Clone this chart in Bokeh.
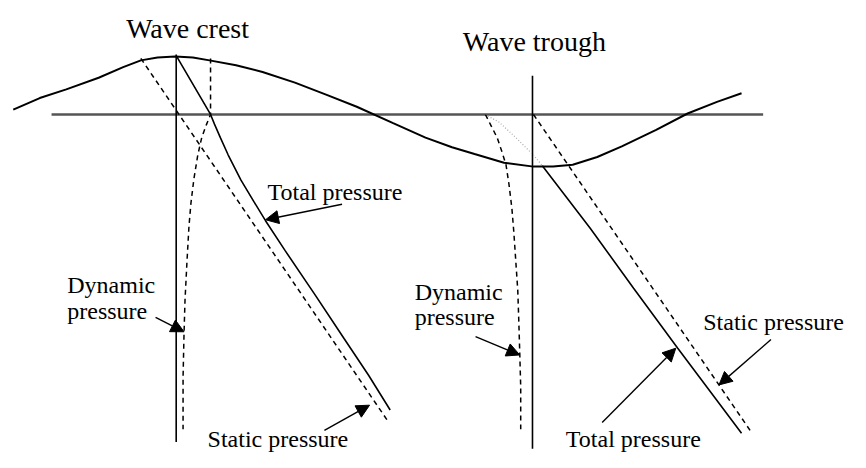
from bokeh.plotting import figure
from bokeh.models import Range1d, Arrow, NormalHead
from bokeh.core.properties import value
from bokeh.embed import file_html
from bokeh.resources import INLINE

# ---- data (diagram coordinates, y grows downward) ----
wave_x = [13, 40, 67, 100, 125, 143, 160, 178, 196, 213, 240, 267, 300, 333, 363, 400, 433, 460, 483, 513, 543, 563, 583, 608, 633, 668, 700, 730, 755]
wave_y = [113, 101, 92, 80, 69, 62, 59, 58, 59, 62, 67, 74, 85, 98, 110, 127, 142, 152, 159, 168, 172, 172, 170, 162, 151, 134, 117, 105, 96]

surface_x = [52, 777]
surface_y = [118, 118]

crest_axis_x = [179, 179]
crest_axis_y = [56, 457]
trough_axis_x = [542, 542]
trough_axis_y = [78, 464]

crest_total_x = [179, 214, 218, 224, 232, 245, 258, 270, 290, 320, 350, 375, 397]
crest_total_y = [57, 118, 128, 142, 160, 186, 208, 228, 259, 304, 350, 388, 424]
crest_static_x = [143, 395]
crest_static_y = [60, 436]
crest_dyn_x = [214, 214, 210, 205, 201, 197, 194, 192, 190, 188, 187, 186, 186]
crest_dyn_y = [60, 118, 128, 142, 160, 185, 210, 234, 270, 310, 344, 390, 444]

trough_total_x = [552, 601, 645, 690, 755]
trough_total_y = [171, 236, 298, 360, 448]
trough_static_x = [543, 765]
trough_static_y = [118, 447]
trough_dyn_x = [494, 500, 506, 511, 515, 518, 521, 523, 525, 527, 528, 529, 530, 530]
trough_dyn_y = [118, 130, 142, 157, 170, 190, 215, 240, 270, 300, 330, 364, 400, 444]
trough_faint_x = [494, 508, 523, 535, 543, 552]
trough_faint_y = [118, 126, 140, 152, 160, 171]

title_text = ["Wave crest", "Wave trough"]
title_x = [128, 471]
title_y = [29, 42]

label_text = ["Total pressure", "Dynamic", "pressure", "Static pressure",
              "Dynamic", "pressure", "Static pressure", "Total pressure"]
label_x = [272, 68, 68, 211, 422, 422, 716, 576]
label_y = [198, 295, 321, 454, 302, 328, 333, 454]

arrow_x0 = [348, 158, 330, 484, 613, 785]
arrow_y0 = [211, 328, 445, 348, 437, 351]
arrow_x1 = [270, 187, 376, 529, 688, 732]
arrow_y1 = [227, 343, 419, 367, 360, 398]

# ---- figure ----
p = figure(width=850, height=452, output_backend="svg", toolbar_location=None,
           x_range=Range1d(0, 866), y_range=Range1d(468, 0), min_border=0)
p.axis.visible = False
p.grid.visible = False
p.outline_line_color = None
p.background_fill_color = "white"
p.border_fill_color = "white"

p.line(surface_x, surface_y, line_color="#555555", line_width=2.5)
p.line(wave_x, wave_y, line_color="black", line_width=2)
p.line(crest_axis_x, crest_axis_y, line_color="black", line_width=1.6)
p.line(trough_axis_x, trough_axis_y, line_color="black", line_width=1.6)

p.line(crest_total_x, crest_total_y, line_color="black", line_width=1.6)
p.line(crest_static_x, crest_static_y, line_color="black", line_width=1.5, line_dash="5 4")
p.line(crest_dyn_x, crest_dyn_y, line_color="black", line_width=1.5, line_dash="5 4")

p.line(trough_faint_x, trough_faint_y, line_color="#aaaaaa", line_width=1.2, line_dash="1 2")
p.line(trough_total_x, trough_total_y, line_color="black", line_width=1.6)
p.line(trough_static_x, trough_static_y, line_color="black", line_width=1.5, line_dash="5 4")
p.line(trough_dyn_x, trough_dyn_y, line_color="black", line_width=1.5, line_dash="5 4")

for x0, y0, x1, y1 in zip(arrow_x0, arrow_y0, arrow_x1, arrow_y1):
    p.add_layout(Arrow(x_start=x0, y_start=y0, x_end=x1, y_end=y1,
                       line_color="black", line_width=1.4,
                       end=NormalHead(size=13, fill_color="black", line_color="black")))

p.text(x=title_x, y=title_y, text=title_text, text_font=value("Liberation Serif"),
       text_font_size="28px", text_color="black", text_baseline="alphabetic", text_align="left")
p.text(x=label_x, y=label_y, text=label_text, text_font=value("Liberation Serif"),
       text_font_size="24px", text_color="black", text_baseline="alphabetic", text_align="left")

open("out.html", "w").write(file_html(p, INLINE))
